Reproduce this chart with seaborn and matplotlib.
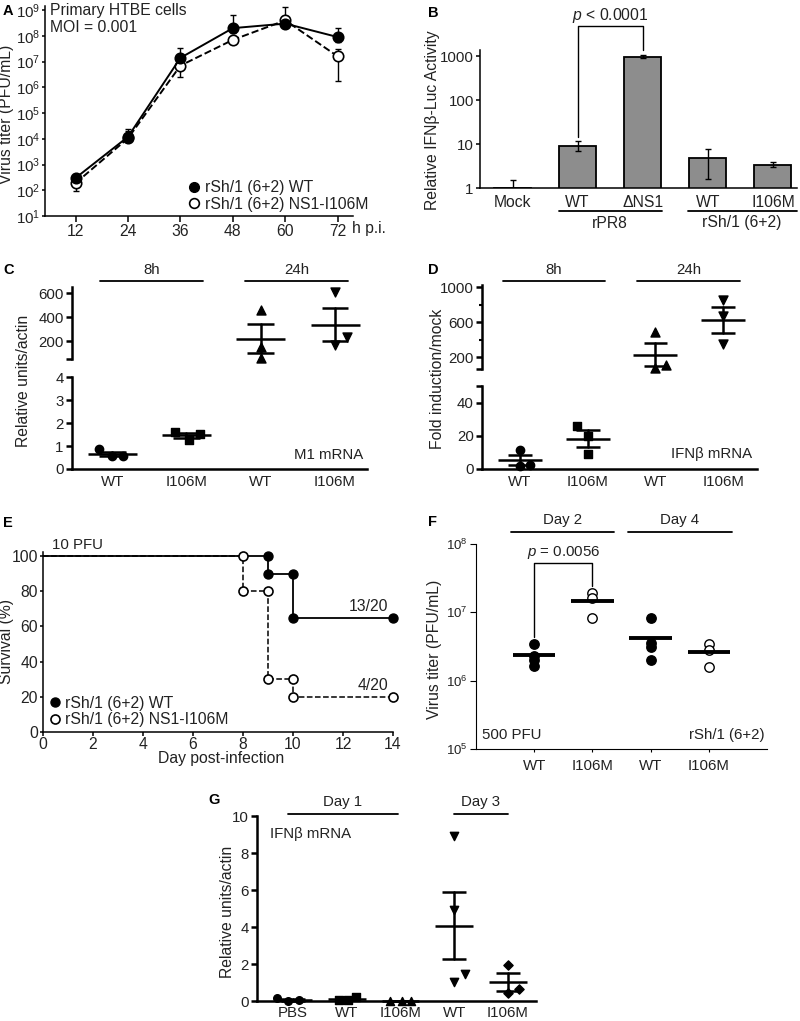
import numpy as np
import pandas as pd
import matplotlib
matplotlib.use("Agg")
import matplotlib.pyplot as plt
import seaborn as sns
from matplotlib.lines import Line2D
from matplotlib.ticker import NullLocator, FixedLocator

# ---------------- data ----------------
# Panel A: growth kinetics
a_hours = [12, 24, 36, 48, 60, 72]
a_wt = [300, 1.2e4, 1.4e7, 2.0e8, 3.0e8, 9.0e7]
a_wt_lo = [220, 9.0e3, 8.0e6, 1.3e8, 2.2e8, 6.0e7]
a_wt_hi = [430, 2.0e4, 3.5e7, 6.3e8, 6.0e8, 2.0e8]
a_mut = [190, 1.05e4, 7.0e6, 7.0e7, 4.0e8, 1.6e7]
a_mut_lo = [90, 8.0e3, 2.5e6, 5.0e7, 3.0e8, 1.7e6]
a_mut_hi = [260, 2.5e4, 1.2e7, 9.0e7, 1.3e9, 3.0e7]
legend_labels = ["rSh/1 (6+2) WT", "rSh/1 (6+2) NS1-I106M"]

# Panel B: IFNb-Luc
b_keys = ["Mock", "WT_rPR8", "dNS1", "WT_rSh", "I106M"]
b_ticklabels = ["Mock", "WT", "ΔNS1", "WT", "I106M"]
b_vals = [1.0, 9.0, 950.0, 4.8, 3.3]
b_lo = [0.7, 7.0, 880.0, 1.6, 3.0]
b_hi = [1.5, 11.5, 1050.0, 7.8, 3.8]

# Panel C: M1 mRNA
cd_ticklabels = ["WT", "I106M", "WT", "I106M"]
c_wt_8h = [0.85, 0.58, 0.58]
c_mut_8h = [1.62, 1.28, 1.50]
c_wt_24h = [455, 150, 55]
c_mut_24h = [605, 234, 163]

# Panel D: IFNb mRNA
d_wt_8h = [11.4, 2.0, 2.4]
d_mut_8h = [25.8, 20.0, 9.0]
d_wt_24h = [486, 74, 112]
d_mut_24h = [850, 665, 345]

# Panel E: survival
e_days_wt = [0, 9, 10, 14]
e_surv_wt = [100, 90, 65, 65]
e_days_mut = [0, 8, 9, 10, 14]
e_surv_mut = [100, 80, 30, 20, 20]

# Panel F: lung titers
f_ticklabels = ["WT", "I106M", "WT", "I106M"]
f_wt_d2 = [3.4e6, 2.3e6, 2.0e6, 1.65e6]
f_mut_d2 = [1.9e7, 1.64e7, 8.4e6]
f_wt_d4 = [8.4e6, 3.5e6, 3.1e6, 2.0e6]
f_mut_d4 = [3.44e6, 2.8e6, 1.6e6]

# Panel G: lung IFNb mRNA
g_ticklabels = ["PBS", "WT", "I106M", "WT", "I106M"]
g_pbs = [0.15, 0.02, 0.03]
g_wt_d1 = [0.03, 0.05, 0.22]
g_mut_d1 = [0.01, 0.01, 0.02]
g_wt_d3 = [8.9, 4.92, 1.03, 1.45]
g_mut_d3 = [1.95, 0.67, 0.42]

# ---------------- style ----------------
sns.set_style("ticks")
plt.rcParams["font.family"] = ["Liberation Sans", "DejaVu Sans"]
plt.rcParams["mathtext.fontset"] = "custom"
plt.rcParams["mathtext.rm"] = "Liberation Sans"
plt.rcParams["mathtext.it"] = "Liberation Sans:italic"
plt.rcParams["mathtext.default"] = "regular"
FS = 10.8      # general text
FSL = 11.3     # axis titles / bigger texts
plt.rcParams["font.size"] = FS
plt.rcParams["xtick.labelsize"] = FS
plt.rcParams["ytick.labelsize"] = FS
plt.rcParams["axes.edgecolor"] = "k"
plt.rcParams["xtick.color"] = "k"
plt.rcParams["ytick.color"] = "k"
plt.rcParams["text.color"] = "#222222"
plt.rcParams["xtick.labelcolor"] = "#222222"
plt.rcParams["ytick.labelcolor"] = "#222222"

W, H = 800, 1021
fig = plt.figure(figsize=(W / 100, H / 100), dpi=100)


def box(x0, y0, x1, y1):
    return fig.add_axes([x0 / W, 1 - y1 / H, (x1 - x0) / W, (y1 - y0) / H])


def ftext(x, y, s, **kw):
    kw.setdefault("va", "center")
    fig.text(x / W, 1 - y / H, s, **kw)


def fline(x0, x1, y, lw=1.3):
    fig.add_artist(Line2D([x0 / W, x1 / W], [1 - y / H, 1 - y / H], color="k", lw=lw))


def style_axes(ax, lw):
    for s in ["top", "right"]:
        ax.spines[s].set_visible(False)
    for s in ["left", "bottom"]:
        ax.spines[s].set_linewidth(lw)
    ax.tick_params(width=lw, length=4, direction="out", pad=2)


def dot_group(ax, vals, pos, offs, marker, s, face="k", mean_w=0.66, cap_w=0.36,
              lw=1.8, sem=True):
    x = pos + np.asarray(offs, float)
    sns.scatterplot(x=x, y=vals, marker=marker, s=s, color=face, edgecolor="k",
                    linewidth=1.0, ax=ax, clip_on=False, zorder=3, legend=False)
    v = np.asarray(vals, float)
    m = v.mean()
    ax.plot([pos - mean_w / 2, pos + mean_w / 2], [m, m], color="k", lw=lw,
            solid_capstyle="butt", zorder=4, clip_on=False)
    if sem:
        se = v.std(ddof=1) / np.sqrt(len(v))
        ax.plot([pos, pos], [m - se, m + se], color="k", lw=lw, zorder=4, clip_on=False)
        for yy in (m - se, m + se):
            ax.plot([pos - cap_w / 2, pos + cap_w / 2], [yy, yy], color="k", lw=lw,
                    solid_capstyle="butt", zorder=4, clip_on=False)


def panel_letter(x, y, s):
    ftext(x, y, s, fontsize=10.5, fontweight="bold", color="k", ha="left")


# ---------------- Panel A ----------------
axA = box(45, 6, 353, 216)
axA.set_yscale("log")
for vals, lo, hi, ls, face in [(a_mut, a_mut_lo, a_mut_hi, "--", "white"),
                               (a_wt, a_wt_lo, a_wt_hi, "-", "k")]:
    v = np.asarray(vals)
    axA.errorbar(a_hours, v, yerr=[v - np.asarray(lo), np.asarray(hi) - v], fmt="none",
                 ecolor="k", elinewidth=1.0, capsize=2.5, capthick=1.0, zorder=2)
    sns.lineplot(x=a_hours, y=vals, ax=axA, color="k", lw=1.4, linestyle=ls,
                 marker="o", markersize=7.5, markerfacecolor=face,
                 markeredgecolor="k", markeredgewidth=1.2, zorder=3)
axA.set_xlim(5, 75.5)
axA.set_ylim(10, 1.45e9)
axA.set_xticks(a_hours)
axA.set_yticks([10.0 ** k for k in range(1, 10)])
axA.yaxis.set_minor_locator(NullLocator())
style_axes(axA, 1.1)
axA.tick_params(axis="x", labelsize=FSL, pad=1.5)
axA.tick_params(axis="y", labelsize=FS, length=2.5, pad=1)
axA.set_xlabel("")
axA.set_ylabel("")
hA = [Line2D([], [], ls="none", marker="o", markersize=7, markerfacecolor="k", markeredgecolor="k"),
      Line2D([], [], ls="none", marker="o", markersize=7, markerfacecolor="white", markeredgecolor="k", markeredgewidth=1.2)]
axA.legend(hA, legend_labels, loc="center left", bbox_to_anchor=(0.47, 0.095), frameon=False,
           handlelength=0.6, handletextpad=0.35, labelspacing=0.1, borderpad=0, borderaxespad=0,
           fontsize=FSL)
ftext(50, 11, "Primary HTBE cells", fontsize=FSL, ha="left")
ftext(50, 27, "MOI = 0.001", fontsize=FSL, ha="left")
ftext(369, 228, "h p.i.", fontsize=FSL, ha="center")
ftext(7, 114, "Virus titer (PFU/mL)", fontsize=FSL, rotation=90, ha="center")
panel_letter(3, 11, "A")

# ---------------- Panel B ----------------
axB = box(480, 50, 797, 188)
axB.set_yscale("log")
dfB = pd.DataFrame({"cond": b_keys, "val": b_vals})
sns.barplot(data=dfB, x="cond", y="val", order=b_keys, color="#8d8d8d", saturation=1,
            edgecolor="k", linewidth=1.3, width=0.57, errorbar=None, ax=axB)
bv = np.asarray(b_vals)
axB.errorbar(range(len(b_keys)), bv, yerr=[bv - np.asarray(b_lo), np.asarray(b_hi) - bv],
             fmt="none", ecolor="k", elinewidth=1.0, capsize=2.5, capthick=1.0, zorder=3)
axB.set_ylim(1, 1370)
axB.set_xlim(-0.5, 4.37)
axB.set_yticks([1, 10, 100, 1000])
axB.set_yticklabels(["1", "10", "100", "1000"])
axB.yaxis.set_minor_locator(NullLocator())
axB.set_xticks(range(len(b_keys)))
axB.set_xticklabels(b_ticklabels)
style_axes(axB, 1.1)
axB.tick_params(axis="y", labelsize=FS, length=3, pad=1.5)
axB.tick_params(axis="x", length=0, pad=5, labelsize=FSL)
axB.set_xlabel("")
axB.set_ylabel("")
axB.plot([1, 1, 2, 2], [14.4, 4800, 4800, 1370], color="k", lw=1.0, clip_on=False)
axB.text(1.5, 8300, r"$\mathit{p}$ < 0.0001", ha="center", va="center", fontsize=FSL)
fline(559, 662, 211)
fline(688, 797, 211)
ftext(610, 223, "rPR8", ha="center", fontsize=FSL)
ftext(742, 223, "rSh/1 (6+2)", ha="center", fontsize=FSL)
ftext(433, 120, "Relative IFNβ-Luc Activity", fontsize=FSL, rotation=90, ha="center")
panel_letter(428, 13, "B")

# ---------------- Panel C ----------------
axC1 = box(72, 287, 367, 359)
axC2 = box(72, 377, 367, 469)
dot_group(axC2, c_wt_8h, 0, [-0.18, 0, 0.15], "o", 36)
dot_group(axC2, c_mut_8h, 1, [-0.15, 0.03, 0.18], "s", 34)
dot_group(axC1, c_wt_24h, 2, [0, 0, 0], "^", 42)
dot_group(axC1, c_mut_24h, 3, [0, 0.16, 0], "v", 42)
for ax in (axC1, axC2):
    ax.set_xlim(-0.54, 3.43)
    ax.set_xlabel("")
    ax.set_ylabel("")
    style_axes(ax, 1.8)
axC1.set_ylim(50, 650)
axC1.set_yticks([50, 200, 400, 600])
axC1.set_yticklabels(["", "200", "400", "600"])
axC1.spines["bottom"].set_visible(False)
axC1.tick_params(axis="x", bottom=False, labelbottom=False)
axC2.set_ylim(0, 4)
axC2.set_yticks([0, 1, 2, 3, 4])
axC2.set_xticks(range(4))
axC2.set_xticklabels(cd_ticklabels)
axC2.tick_params(axis="x", length=0, pad=4)
ftext(363, 455, "M1 mRNA", ha="right", fontsize=FS)
fline(100, 203, 281)
fline(245, 348, 281)
ftext(151.5, 270, "8h", ha="center", fontsize=FS)
ftext(296.5, 270, "24h", ha="center", fontsize=FS)
ftext(24, 381, "Relative units/actin", fontsize=FSL, rotation=90, ha="center")
panel_letter(3, 270, "C")

# ---------------- Panel D ----------------
axD1 = box(482, 285, 757, 369)
axD2 = box(482, 386, 757, 469)
dot_group(axD2, d_wt_8h, 0, [0, 0, 0.15], "o", 36, mean_w=0.65, cap_w=0.35)
dot_group(axD2, d_mut_8h, 1, [-0.16, 0, 0], "s", 34, mean_w=0.65, cap_w=0.35)
dot_group(axD1, d_wt_24h, 2, [0, 0, 0.16], "^", 42, mean_w=0.65, cap_w=0.35)
dot_group(axD1, d_mut_24h, 3, [0, 0, 0], "v", 42, mean_w=0.65, cap_w=0.35)
for ax in (axD1, axD2):
    ax.set_xlim(-0.56, 3.5)
    ax.set_xlabel("")
    ax.set_ylabel("")
    style_axes(ax, 1.8)
axD1.set_ylim(63, 1023)
axD1.set_yticks([63, 200, 600, 1000])
axD1.set_yticklabels(["", "200", "600", "1000"])
axD1.yaxis.set_minor_locator(FixedLocator([400, 800]))
axD1.tick_params(axis="y", which="minor", length=2.5, width=1.5)
axD1.spines["bottom"].set_visible(False)
axD1.tick_params(axis="x", bottom=False, labelbottom=False)
axD2.set_ylim(0, 50)
axD2.set_yticks([0, 20, 40, 50])
axD2.set_yticklabels(["0", "20", "40", ""])
axD2.set_xticks(range(4))
axD2.set_xticklabels(cd_ticklabels)
axD2.tick_params(axis="x", length=0, pad=4)
ftext(752, 454, "IFNβ mRNA", ha="right", fontsize=FS)
fline(503, 605, 281)
fline(637, 740, 281)
ftext(554, 270, "8h", ha="center", fontsize=FS)
ftext(688.5, 270, "24h", ha="center", fontsize=FS)
ftext(438, 379, "Fold induction/mock", fontsize=FSL, rotation=90, ha="center")
panel_letter(428, 270, "D")

# ---------------- Panel E ----------------
axE = box(43, 552, 393, 732)


def step_markers(days, surv):
    xs, ys = [], []
    for i in range(1, len(days)):
        if surv[i] != surv[i - 1]:
            xs += [days[i], days[i]]
            ys += [surv[i - 1], surv[i]]
    xs.append(days[-1])
    ys.append(surv[-1])
    return xs, ys


sns.lineplot(x=e_days_mut, y=e_surv_mut, ax=axE, color="k", lw=1.1, linestyle="--",
             drawstyle="steps-post", zorder=2)
sns.lineplot(x=e_days_wt, y=e_surv_wt, ax=axE, color="k", lw=1.3, linestyle="-",
             drawstyle="steps-post", zorder=2)
mx, my = step_markers(e_days_mut, e_surv_mut)
sns.scatterplot(x=mx, y=my, ax=axE, marker="o", s=42, color="white", edgecolor="k",
                linewidth=1.2, zorder=3, clip_on=False, legend=False)
mx, my = step_markers(e_days_wt, e_surv_wt)
sns.scatterplot(x=mx, y=my, ax=axE, marker="o", s=42, color="k", edgecolor="k",
                linewidth=1.0, zorder=3, clip_on=False, legend=False)
axE.set_xlim(0, 14)
axE.set_ylim(0, 102.3)
axE.set_xticks(range(0, 15, 2))
axE.set_yticks(range(0, 101, 20))
axE.set_xlabel("")
axE.set_ylabel("")
style_axes(axE, 1.1)
axE.tick_params(labelsize=FSL)
axE.tick_params(axis="x", length=3, pad=0.5)
axE.tick_params(axis="y", length=2.5, pad=1)
hE = [Line2D([], [], ls="none", marker="o", markersize=6.5, markerfacecolor="k", markeredgecolor="k"),
      Line2D([], [], ls="none", marker="o", markersize=6.5, markerfacecolor="white", markeredgecolor="k", markeredgewidth=1.2)]
axE.legend(hE, legend_labels, loc="center left", bbox_to_anchor=(0.02, 0.115), frameon=False,
           handlelength=0.6, handletextpad=0.35, labelspacing=0.1, borderpad=0, borderaxespad=0,
           fontsize=FSL)
ftext(388, 606, "13/20", ha="right", fontsize=FSL)
ftext(388, 685, "4/20", ha="right", fontsize=FSL)
ftext(52, 545, "10 PFU", ha="left", fontsize=FS)
ftext(221, 759, "Day post-infection", ha="center", fontsize=FSL)
ftext(7, 642, "Survival (%)", fontsize=FSL, rotation=90, ha="center")
panel_letter(3, 523, "E")

# ---------------- Panel F ----------------
axF = box(476, 544, 767, 749)
axF.set_yscale("log")
for vals, pos, face in [(f_wt_d2, 0, "k"), (f_mut_d2, 1, "white"),
                        (f_wt_d4, 2, "k"), (f_mut_d4, 3, "white")]:
    dot_group(axF, vals, pos, [0] * len(vals), "o", 46, face=face, mean_w=0.73,
              lw=2.8, sem=False)
axF.set_xlim(-1, 4)
axF.set_ylim(1e5, 1e8)
axF.set_yticks([1e5, 1e6, 1e7, 1e8])
axF.yaxis.set_minor_locator(NullLocator())
axF.set_xticks(range(4))
axF.set_xticklabels(f_ticklabels)
axF.set_xlabel("")
axF.set_ylabel("")
style_axes(axF, 0.8)
axF.tick_params(axis="y", labelsize=9.5)
axF.tick_params(axis="x", length=2, pad=5)
axF.plot([0, 0, 1, 1], [4.4e6, 5.3e7, 5.3e7, 2.4e7], color="k", lw=1.0, clip_on=False)
axF.text(0.5, 7.4e7, r"$\mathit{p}$ = 0.0056", ha="center", va="center", fontsize=FS)
fline(511, 614, 532)
fline(628, 732, 532)
ftext(562.5, 520, "Day 2", ha="center", fontsize=FS)
ftext(680, 520, "Day 4", ha="center", fontsize=FS)
ftext(482, 735, "500 PFU", ha="left", fontsize=FS)
ftext(765, 735, "rSh/1 (6+2)", ha="right", fontsize=FS)
ftext(435, 649, "Virus titer (PFU/mL)", fontsize=FSL, rotation=90, ha="center")
panel_letter(428, 522, "F")

# ---------------- Panel G ----------------
axG = box(257, 816, 536, 1001)
dot_group(axG, g_pbs, 0, [-0.3, -0.09, 0.11], "o", 30, mean_w=0.7, cap_w=0.44)
dot_group(axG, g_wt_d1, 1, [-0.15, 0.02, 0.17], "s", 30, mean_w=0.7, cap_w=0.44)
dot_group(axG, g_mut_d1, 2, [-0.19, 0.02, 0.19], "^", 34, mean_w=0.7, cap_w=0.44)
dot_group(axG, g_wt_d3, 3, [0, 0, 0, 0.2], "v", 36, mean_w=0.7, cap_w=0.44)
dot_group(axG, g_mut_d3, 4, [0, 0.2, 0], "D", 22, mean_w=0.7, cap_w=0.44)
axG.set_xlim(-0.67, 4.52)
axG.set_ylim(0, 10)
axG.set_yticks(range(0, 11, 2))
axG.set_xticks(range(5))
axG.set_xticklabels(g_ticklabels)
axG.set_xlabel("")
axG.set_ylabel("")
style_axes(axG, 1.8)
axG.tick_params(axis="x", length=0, pad=3.5)
fline(288, 398, 814)
fline(454, 508, 814)
ftext(343, 802, "Day 1", ha="center", fontsize=FS)
ftext(481, 802, "Day 3", ha="center", fontsize=FS)
ftext(270, 834, "IFNβ mRNA", ha="left", fontsize=FS)
ftext(228, 912, "Relative units/actin", fontsize=FSL, rotation=90, ha="center")
panel_letter(208, 800, "G")

fig.savefig("out.png", dpi=100)
